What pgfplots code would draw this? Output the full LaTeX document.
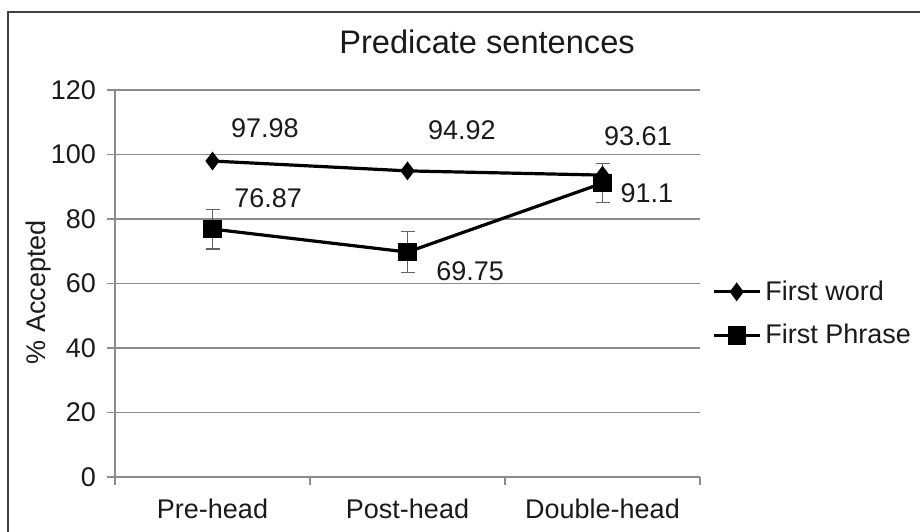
\documentclass[border=0pt]{standalone}
\usepackage{pgfplots}
\pgfplotsset{compat=1.18}
\usepackage{fontspec}
\setmainfont{Liberation Sans}
\definecolor{gridc}{HTML}{8C8C8C}
\definecolor{txt}{HTML}{1A1A1A}
\begin{document}
\begin{tikzpicture}
\useasboundingbox (0,0) rectangle (460pt,265.5pt);
\draw[line width=0.8pt, color=black!75] (4pt,-5pt) -- (4pt,259.5pt) -- (470pt,259.5pt);
\begin{axis}[
  at={(57.5pt,27pt)}, anchor=south west,
  scale only axis, width=292.5pt, height=193.5pt,
  xmin=-0.5, xmax=2.5, ymin=0, ymax=120,
  ytick={0,20,...,120},
  xtick={-0.5,0.5,1.5,2.5}, xticklabels={},
  extra x ticks={0,1,2},
  extra x tick labels={Pre-head,Post-head,Double-head},
  extra x tick style={major tick length=0pt, grid=none},
  axis lines=left, axis line style={gridc, line width=0.8pt, -},
  tick style={gridc, line width=0.8pt},
  tick align=outside, major tick length=4pt,
  ymajorgrids, grid style={gridc, line width=0.8pt},
  /pgf/number format/assume math mode=true,
  tick label style={font=\fontsize{13.5pt}{16pt}\selectfont, text=txt},
  xticklabel style={yshift=-7.5pt},
  yticklabel style={xshift=-2pt},
  title={Predicate sentences},
  title style={font=\fontsize{16.3pt}{19pt}\selectfont, text=txt, at={(axis description cs:0.636,1.0956)}, anchor=base, yshift=-6pt},
  ylabel={\% Accepted},
  ylabel style={font=\fontsize{13.5pt}{16pt}\selectfont, text=txt, at={(axis description cs:-0.130,0.478)}, anchor=center},
  legend style={at={(axis description cs:1.02,0.519)}, anchor=north west, draw=none, fill=none,
    font=\fontsize{13.5pt}{16pt}\selectfont, text=txt, row sep=6.5pt, inner sep=0pt},
  legend cell align=left,
  legend image code/.code={\draw[mark repeat=2,mark phase=2] plot coordinates {(0pt,0pt) (11.5pt,0pt) (23pt,0pt)};},
  clip=false,
]
\addplot[black, line width=1.6pt, mark=diamond*, mark size=3.4pt, mark options={solid}]
  coordinates {(0,97.98) (1,94.92) (2,93.61)};
\addlegendentry{First word}
\addplot[black, line width=1.6pt, mark=square*, mark size=3.8pt, mark options={solid},
  error bars/.cd, y dir=both, y explicit,
  error bar style={gridc!70!black, line width=0.6pt},
  error mark options={rotate=90, mark size=3.5pt, gridc!70!black, line width=0.6pt}]
  coordinates {(0,76.87) +- (0,6.2) (1,69.75) +- (0,6.3) (2,91.1) +- (0,6.1)};
\addlegendentry{First Phrase}
\node[font=\fontsize{13.5pt}{16pt}\selectfont, text=txt] at (axis cs:0.269,108.2) {97.98};
\node[font=\fontsize{13.5pt}{16pt}\selectfont, text=txt] at (axis cs:1.279,107.6) {94.92};
\node[font=\fontsize{13.5pt}{16pt}\selectfont, text=txt] at (axis cs:2.182,105.7) {93.61};
\node[font=\fontsize{13.5pt}{16pt}\selectfont, text=txt] at (axis cs:0.285,86.5) {76.87};
\node[font=\fontsize{13.5pt}{16pt}\selectfont, text=txt] at (axis cs:1.321,63.8) {69.75};
\node[font=\fontsize{13.5pt}{16pt}\selectfont, text=txt] at (axis cs:2.228,88.1) {91.1};
\end{axis}
\end{tikzpicture}
\end{document}
